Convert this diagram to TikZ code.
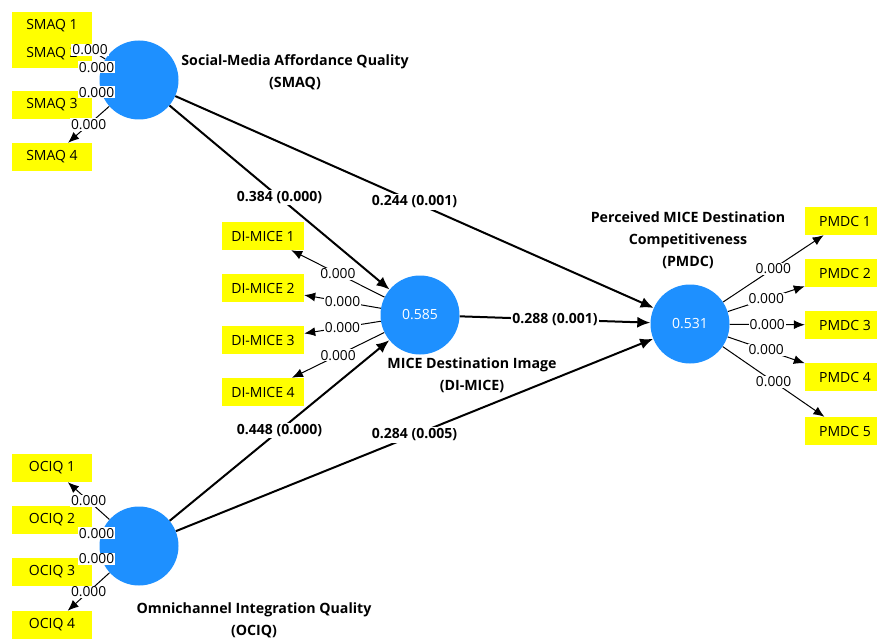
\documentclass[tikz,border=0pt]{standalone}
\usepackage{fontspec}
\setmainfont{Open Sans}
\usetikzlibrary{arrows.meta,backgrounds}
\definecolor{latentblue}{RGB}{30,144,255}
\definecolor{itemyellow}{RGB}{255,255,0}

\begin{document}
\begin{tikzpicture}[x=1pt,y=-1pt,
	latent_node/.style={circle,fill=latentblue,minimum size=79pt,inner sep=0pt,text=white,font=\fontsize{14}{16}\selectfont},
	item_node/.style={rectangle,fill=itemyellow,minimum width=80pt,minimum height=28pt,inner sep=0pt,font=\fontsize{14}{16}\selectfont},
	name_node/.style={align=center,font=\bfseries\fontsize{14.2}{22}\selectfont},
	path_label/.style={fill=white,inner sep=1.5pt,font=\bfseries\fontsize{14}{16}\selectfont},
	load_label/.style={fill=white,inner sep=1pt,font=\fontsize{13.8}{15}\selectfont},
	struct_arrow/.style={draw,line width=2pt,-{Latex[length=13pt,width=11pt]}},
	load_arrow/.style={draw,line width=1pt,-{Latex[length=11pt,width=9pt]}}]
	\useasboundingbox (0,0) rectangle (877,639);

	% latent variables
	\node[latent_node] (smaq) at (139,80){};
	\node[latent_node] (dimice) at (420,315){0.585};
	\node[latent_node] (pmdc) at (690,324){0.531};
	\node[latent_node] (ociq) at (139,546){};

	% indicators
	\node[item_node] (smaq1) at (52,26){SMAQ 1};
	\node[item_node] (smaq2) at (52,54){SMAQ 2};
	\node[item_node] (smaq3) at (52,105){SMAQ 3};
	\node[item_node] (smaq4) at (52,157){SMAQ 4};

	\node[item_node,minimum width=82pt] (dimice1) at (263,236){DI-MICE 1};
	\node[item_node,minimum width=82pt] (dimice2) at (263,288){DI-MICE 2};
	\node[item_node,minimum width=82pt] (dimice3) at (263,340){DI-MICE 3};
	\node[item_node,minimum width=82pt] (dimice4) at (263,392){DI-MICE 4};

	\node[item_node] (pmdc1) at (845,221){PMDC 1};
	\node[item_node] (pmdc2) at (845,273){PMDC 2};
	\node[item_node] (pmdc3) at (845,325){PMDC 3};
	\node[item_node] (pmdc4) at (845,377){PMDC 4};
	\node[item_node] (pmdc5) at (845,431){PMDC 5};

	\node[item_node] (ociq1) at (52,468){OCIQ 1};
	\node[item_node] (ociq2) at (52,520){OCIQ 2};
	\node[item_node] (ociq3) at (52,572){OCIQ 3};
	\node[item_node] (ociq4) at (52,625){OCIQ 4};

	% construct names
	\node[name_node] (smaq_name) at (295,72){Social-Media Affordance Quality\\(SMAQ)};
	\node[name_node] (dimice_name) at (472,375){MICE Destination Image\\(DI-MICE)};
	\node[name_node] (pmdc_name) at (688,240){Perceived MICE Destination\\Competitiveness\\(PMDC)};
	\node[name_node] (ociq_name) at (254,620){Omnichannel Integration Quality\\(OCIQ)};

	\begin{scope}[on background layer] %connectors go under the boxes
		\path[struct_arrow]
		(smaq) edge node[path_label] {0.384 (0.000)} (dimice)
		(smaq) edge node[path_label] {0.244 (0.001)} (pmdc)
		(dimice) edge node[path_label] {0.288 (0.001)} (pmdc)
		(ociq) edge node[path_label] {0.448 (0.000)} (dimice)
		(ociq) edge node[path_label] {0.284 (0.005)} (pmdc)
		;

		\path[load_arrow]
		(smaq) edge (smaq1)
		(smaq) edge (smaq2)
		(smaq) edge (smaq3)
		(smaq) edge (smaq4)
		(ociq) edge (ociq1)
		(ociq) edge (ociq2)
		(ociq) edge (ociq3)
		(ociq) edge (ociq4)
		(dimice) edge node[load_label] {0.000} (dimice1)
		(dimice) edge node[load_label] {0.000} (dimice2)
		(dimice) edge node[load_label] {0.000} (dimice3)
		(dimice) edge node[load_label] {0.000} (dimice4)
		(pmdc) edge node[load_label] {0.000} (pmdc1)
		(pmdc) edge node[load_label] {0.000} (pmdc2)
		(pmdc) edge node[load_label] {0.000} (pmdc3)
		(pmdc) edge node[load_label] {0.000} (pmdc4)
		(pmdc) edge node[load_label] {0.000} (pmdc5)
		;
	\end{scope}

	% loadings of the left blocks sit over the boxes
	\path (smaq) -- node[load_label] {0.000} (smaq1);
	\path (smaq) -- node[load_label] {0.000} (smaq2);
	\path (smaq) -- node[load_label] {0.000} (smaq3);
	\path (smaq) -- node[load_label] {0.000} (smaq4);
	\path (ociq) -- node[load_label] {0.000} (ociq1);
	\path (ociq) -- node[load_label] {0.000} (ociq2);
	\path (ociq) -- node[load_label] {0.000} (ociq3);
	\path (ociq) -- node[load_label] {0.000} (ociq4);
\end{tikzpicture}
\end{document}
